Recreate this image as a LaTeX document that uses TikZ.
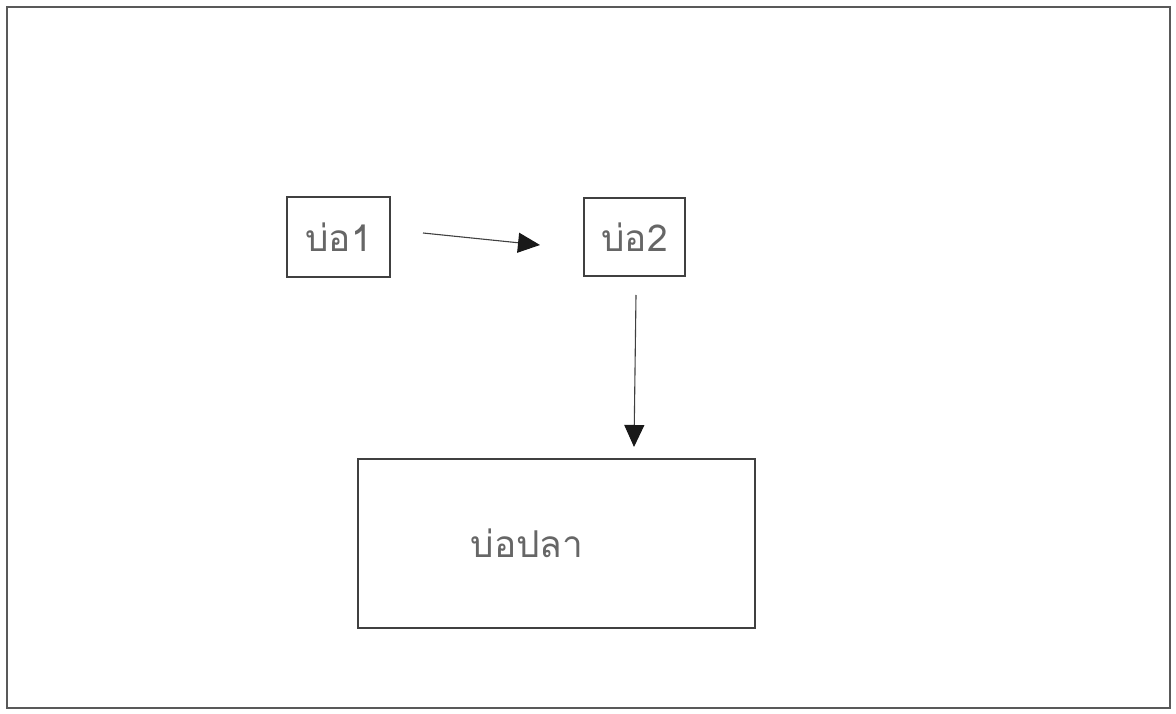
\documentclass[tikz,border=0pt]{standalone}
\usepackage{fontspec}
\newfontfamily\thaifont[Script=Thai]{Loma}
\usetikzlibrary{arrows.meta}
\tikzset{
  pond/.style={draw=black!75, line width=1.1pt, inner sep=0pt},
  lbl/.style={font=\thaifont\fontsize{37}{44}\selectfont, text=black!60},
  flow/.style={draw=black!75, line width=1.1pt, -{Triangle[length=22pt,width=20pt,fill=black!90,color=black!90]}},
}
\begin{document}
\begin{tikzpicture}[x=1pt,y=-1pt]
\useasboundingbox (0,0) rectangle (1176,714);
\draw[black!65, line width=1.2pt] (7,7) rectangle (1170,708);
\node[pond, minimum width=103pt, minimum height=80pt] (p1) at (338.5,237) {};
\node[lbl] (t1) at (p1.center) {บ่อ1};
\node[pond, minimum width=101pt, minimum height=78pt] (p2) at (634.5,237) {};
\node[lbl] (t2) at (p2.center) {บ่อ2};
\node[pond, minimum width=397pt, minimum height=169pt] (p3) at (556.5,543.5) {};
\node[lbl] (t3) at (527,543) {บ่อปลา};
\coordinate (a1s) at (423,233);
\coordinate (a1e) at (540,245);
\coordinate (a2s) at (636,295);
\coordinate (a2e) at (634,447);
\draw[flow] (a1s) -- (a1e);
\draw[flow] (a2s) -- (a2e);
\end{tikzpicture}
\end{document}
